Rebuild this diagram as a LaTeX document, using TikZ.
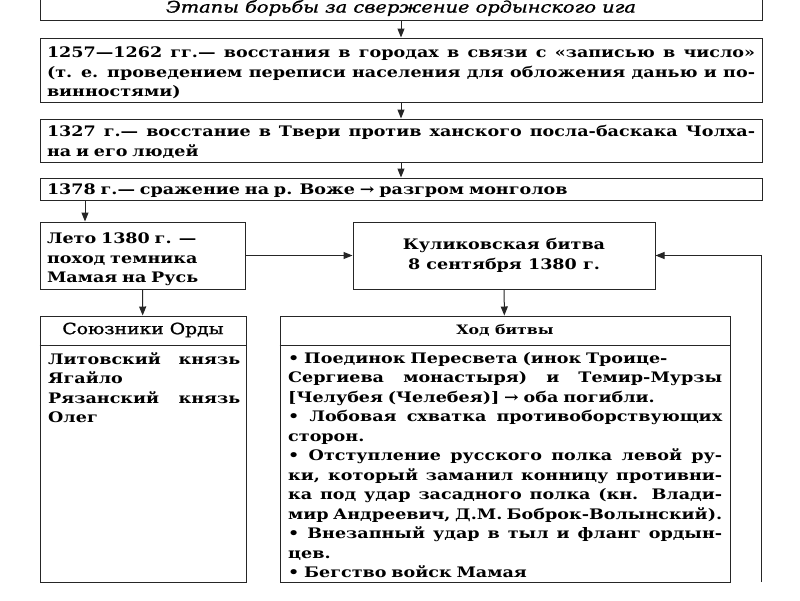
\documentclass[tikz,border=0pt]{standalone}
\usepackage{fontspec}
\setmainfont{DejaVu Serif}[FakeStretch=1.21]
\newfontfamily\hdrfont{DejaVu Serif}[FakeStretch=1.21,FakeBold=1.2]
\usetikzlibrary{arrows.meta,calc}
\newcommand\J[2]{\makebox[#1][s]{\spaceskip=0pt\xspaceskip=0pt #2}}
\newcommand\up[1]{\rule{0pt}{#1}}
\begin{document}
\begin{tikzpicture}[x=1pt,y=-1pt,
  box/.style={draw=black!85,line width=1pt,rectangle,inner xsep=7pt,inner ysep=0pt},
  txt/.style={font=\bfseries\fontsize{14.5}{19.5}\selectfont,align=left},
  arr/.style={draw=black!85,line width=1pt,-{Triangle[length=9pt,width=7pt]}},
  sep/.style={draw=black!85,line width=1pt}
]
\useasboundingbox (0,0) rectangle (800,600);
\fill[white] (0,0) rectangle (800,600);

\node[box,minimum width=722pt,minimum height=24pt,font=\hdrfont\itshape\fontsize{16}{19.5}\selectfont] (title) at (401,8) {Этапы борьбы за свержение ордынского ига};

\node[box,txt,minimum height=64pt,text width=708pt] (b1) at (401,70)
{\up{17pt}\J{708pt}{1257—1262 гг.— восстания в городах в связи с «записью в число»}\\
\J{708pt}{(т. е. проведением переписи населения для обложения данью и по-}\\
винностями)};

\node[box,txt,minimum height=43pt,text width=708pt] (b2) at (401,140.5)
{\up{14pt}\J{708pt}{1327 г.— восстание в Твери против ханского посла-баскака Чолха-}\\
на и его людей};

\node[box,txt,minimum height=22pt,text width=708pt] (b3) at (401,189)
{\up{15pt}1378 г.— сражение на р. Воже → разгром монголов};

\node[box,txt,minimum height=67pt,text width=191pt] (b4) at (142.5,255.5)
{\up{19pt}Лето 1380 г. —\\поход темника\\Мамая на Русь};

\node[box,txt,align=center,minimum height=67pt,minimum width=302pt] (kul) at (504,255.5)
{Куликовская битва\\8 сентября 1380 г.};

\node[box,minimum width=206pt,minimum height=266pt] (al) at (143,449) {};
\node[box,minimum width=450pt,minimum height=266pt] (hod) at (505,449) {};

\draw[sep] (al.west |- 0,345) -- (al.east |- 0,345);
\draw[sep] (hod.west |- 0,345) -- (hod.east |- 0,345);

\node[font=\hdrfont\fontsize{15.5}{19.5}\selectfont] (alh) at (143,330) {Союзники Орды};
\node[font=\bfseries\fontsize{13}{19.5}\selectfont] (hodh) at (505,330) {Ход битвы};

\node[txt,anchor=north west,inner sep=0pt,text width=192pt] (alb) at (48,352)
{\J{192pt}{Литовский князь}\\Ягайло\\\J{192pt}{Рязанский князь}\\Олег};

\node[txt,anchor=north west,inner sep=0pt,text width=434pt] (hodb) at (288,352)
{• Поединок Пересвета (инок Троице-\\
\J{434pt}{Сергиева монастыря) и Темир-Мурзы}\\
{[Челубея (Челебея)] → оба погибли.}\\
\J{434pt}{• Лобовая схватка противоборствующих}\\
сторон.\\
\J{434pt}{• Отступление русского полка левой ру-}\\
\J{434pt}{ки, который заманил конницу противни-}\\
\J{434pt}{ка под удар засадного полка (кн. Влади-}\\
\J{434pt}{мир Андреевич, Д.М. Боброк-Волынский).}\\
\J{434pt}{• Внезапный удар в тыл и фланг ордын-}\\
цев.\\
• Бегство войск Мамая};

\coordinate (c85) at (85,0);
\coordinate (rb) at (761,582);

\draw[arr] (title) -- (b1);
\draw[arr] (b1) -- (b2);
\draw[arr] (b2) -- (b3);
\draw[arr] (b3.south -| c85) -- (b4.north -| c85);
\draw[arr] (b4.east) -- (kul.west);
\draw[arr] (rb) |- (kul.east);
\draw[arr] (b4) -- (al);
\draw[arr] (kul) -- (hod);
\end{tikzpicture}
\end{document}
